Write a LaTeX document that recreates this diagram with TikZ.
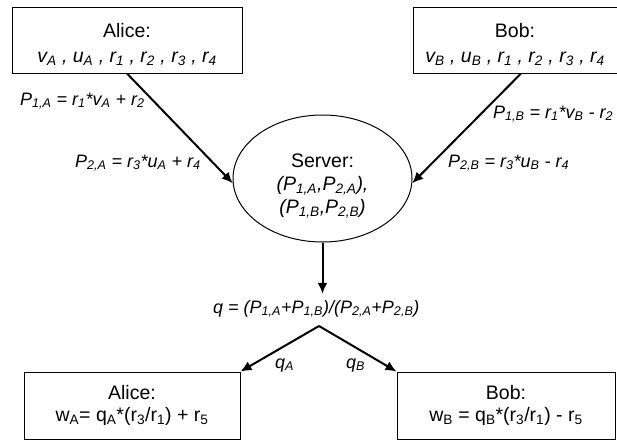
\documentclass[tikz,border=0pt]{standalone}
\usepackage{fontspec}
\setmainfont{Liberation Sans}
\usepackage{tikz}
\usetikzlibrary{arrows.meta,positioning,shapes.geometric}
\newcommand{\Sb}[1]{\textsubscript{#1}}

\begin{document}
\begin{tikzpicture}[
    x=1pt, y=-1pt, >={Latex[length=11pt,width=10pt]},
    party/.style={draw,line width=1pt,minimum height=66pt,align=center,
                  inner sep=0pt,text height=49pt,text depth=5pt,
                  font=\fontsize{19.5}{25}\selectfont},
    result/.style={draw,line width=1pt,minimum height=67pt,align=center,
                   inner sep=0pt,text height=36pt,text depth=5pt,
                   font=\fontsize{19.5}{21.5}\selectfont},
    srv/.style={draw,ellipse,line width=1pt,minimum width=179pt,
                minimum height=127pt,inner sep=0pt,align=center,
                text height=74pt,text depth=5pt,
                font=\fontsize{19.5}{23}\selectfont},
    msg/.style={inner sep=0pt,font=\fontsize{18}{22}\selectfont\itshape},
    flow/.style={->,line width=2pt}
  ]
    \useasboundingbox (0,0) rectangle (617,440);

    \node[party,minimum width=230pt] (alice) at (127,40)
      {Alice:\\{\itshape v\Sb{A} , u\Sb{A} , r\Sb{1} , r\Sb{2} , r\Sb{3} , r\Sb{4}}};
    \node[party,minimum width=204pt,right=170pt of alice] (bob)
      {Bob:\\{\itshape v\Sb{B} , u\Sb{B} , r\Sb{1} , r\Sb{2} , r\Sb{3} , r\Sb{4}}};

    \node[srv] (server) at (322.5,178.5)
      {Server:\\{\itshape (P\Sb{1,A},P\Sb{2,A}),}\\{\itshape (P\Sb{1,B},P\Sb{2,B})}};

    \node[msg,anchor=base west] (p1a) at (20,105)
      {P\Sb{1,A} = r\Sb{1}*v\Sb{A} + r\Sb{2}};
    \node[msg,anchor=base west] (p2a) at (75,167)
      {P\Sb{2,A} = r\Sb{3}*u\Sb{A} + r\Sb{4}};
    \node[msg,anchor=base west] (p1b) at (493,118)
      {P\Sb{1,B} = r\Sb{1}*v\Sb{B} - r\Sb{2}};
    \node[msg,anchor=base west] (p2b) at (448,167)
      {P\Sb{2,B} = r\Sb{3}*u\Sb{B} - r\Sb{4}};

    \node[msg,anchor=base west] (qall) at (213,313)
      {q = (P\Sb{1,A}+P\Sb{1,B})/(P\Sb{2,A}+P\Sb{2,B})};
    \coordinate (fork) at (319,326);

    \node[result,minimum width=216pt] (alice2) at (132,405.5)
      {Alice:\\w\Sb{A}= q\Sb{A}*(r\Sb{3}/r\Sb{1}) + r\Sb{5}};
    \node[result,minimum width=218pt,right=156pt of alice2] (bob2)
      {Bob:\\w\Sb{B} = q\Sb{B}*(r\Sb{3}/r\Sb{1}) - r\Sb{5}};

    \node[msg,anchor=base west] (qa) at (275,368) {q\Sb{A}};
    \node[msg,anchor=base west] (qb) at (346,368) {q\Sb{B}};

    \draw[flow] (alice.south) -- (server.183);
    \draw[flow] ([xshift=6pt]bob.south) -- (server.-3);
    \draw[flow] (server.south) -- ([yshift=6pt]server.south |- qall.north);
    \draw[flow] (fork) -- (alice2.north east);
    \draw[flow] (fork) -- (bob2.north west);
  \end{tikzpicture}
\end{document}
